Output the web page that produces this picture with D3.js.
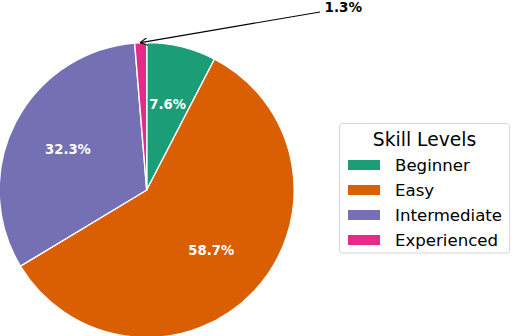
<!DOCTYPE html>
<html>
<head>
<meta charset="utf-8">
<script src="https://cdn.jsdelivr.net/npm/d3@7"></script>
<style>
  body { margin: 0; background: #fff; }
  svg { display: block; font-family: "DejaVu Sans", sans-serif; }
</style>
</head>
<body>
<div id="chart"></div>
<script>
// data
var levels = ["Beginner", "Easy", "Intermediate", "Experienced"];
var shares = [7.6, 58.7, 32.3, 1.3];
var colors = ["#1b9e77", "#d95f02", "#7570b3", "#e7298a"];

var width = 512, height = 336;
var cx = 146.7, cy = 190, radius = 147.5;

var svg = d3.select("#chart")
    .append("svg")
    .attr("width", width)
    .attr("height", height);

var data = levels.map(function (d, i) { return { level: d, value: shares[i], color: colors[i] }; });

var pie = d3.pie()
    .sort(null)
    .value(function (d) { return d.value; });

var arc = d3.arc().innerRadius(0).outerRadius(radius);
var labelArc = d3.arc().innerRadius(radius * 0.6).outerRadius(radius * 0.6);

var g = svg.append("g")
    .attr("transform", "translate(" + cx + "," + cy + ")");

var slices = pie(data);

g.selectAll("path")
    .data(slices)
    .enter()
    .append("path")
    .attr("d", arc)
    .attr("fill", function (d) { return d.data.color; })
    .attr("stroke", "white")
    .attr("stroke-width", 1.4)
    .attr("stroke-linejoin", "round");

// percent labels inside (skip the tiny slice)
g.selectAll("text.pct")
    .data(slices.filter(function (d) { return d.data.value > 5; }))
    .enter()
    .append("text")
    .attr("class", "pct")
    .attr("x", function (d) { return labelArc.centroid(d)[0]; })
    .attr("y", function (d) { return labelArc.centroid(d)[1]; })
    .attr("dy", "0.35em")
    .attr("text-anchor", "middle")
    .attr("font-size", "13.2px")
    .attr("font-weight", "bold")
    .attr("fill", "white")
    .text(function (d) { return d.data.value.toFixed(1) + "%"; });

// annotation for the small slice
var small = slices[3];
var mid = (small.startAngle + small.endAngle) / 2;
var tip = [Math.sin(mid) * radius, -Math.cos(mid) * radius];
var textPos = [320 - cx, 12 - cy];

svg.append("defs").append("marker")
    .attr("id", "arrow")
    .attr("viewBox", "0 0 10 10")
    .attr("refX", 9).attr("refY", 5)
    .attr("markerWidth", 8).attr("markerHeight", 8)
    .attr("markerUnits", "userSpaceOnUse")
    .attr("orient", "auto")
    .append("path")
    .attr("d", "M0,0 L10,5 L0,10")
    .attr("fill", "none")
    .attr("stroke", "black")
    .attr("stroke-width", 1.4);

g.append("line")
    .attr("x1", textPos[0]).attr("y1", textPos[1])
    .attr("x2", tip[0]).attr("y2", tip[1])
    .attr("stroke", "black")
    .attr("stroke-width", 1.1)
    .attr("marker-end", "url(#arrow)");

g.append("text")
    .attr("x", textPos[0] + 4.5)
    .attr("y", textPos[1] - 4.5)
    .attr("dy", "0.35em")
    .attr("font-size", "13.5px")
    .attr("font-weight", "bold")
    .attr("fill", "black")
    .text(small.data.value.toFixed(1) + "%");

// legend
var legend = svg.append("g").attr("transform", "translate(339.5,123.5)");
legend.append("rect")
    .attr("width", 170)
    .attr("height", 129.5)
    .attr("rx", 3)
    .attr("fill", "white")
    .attr("stroke", "#d6d6d6")
    .attr("stroke-width", 1);

legend.append("text")
    .attr("x", 85)
    .attr("y", 15.5)
    .attr("dy", "0.35em")
    .attr("text-anchor", "middle")
    .attr("font-size", "18.7px")
    .text("Skill Levels");

var items = legend.selectAll("g.item")
    .data(data)
    .enter()
    .append("g")
    .attr("class", "item")
    .attr("transform", function (d, i) { return "translate(0," + (41.5 + i * 25) + ")"; });

items.append("rect")
    .attr("x", 8.5).attr("y", -5)
    .attr("width", 32).attr("height", 10)
    .attr("fill", function (d) { return d.color; });

items.append("text")
    .attr("x", 55.5)
    .attr("y", 0)
    .attr("dy", "0.35em")
    .attr("font-size", "16.6px")
    .attr("fill", "black")
    .text(function (d) { return d.level; });
</script>
</body>
</html>
